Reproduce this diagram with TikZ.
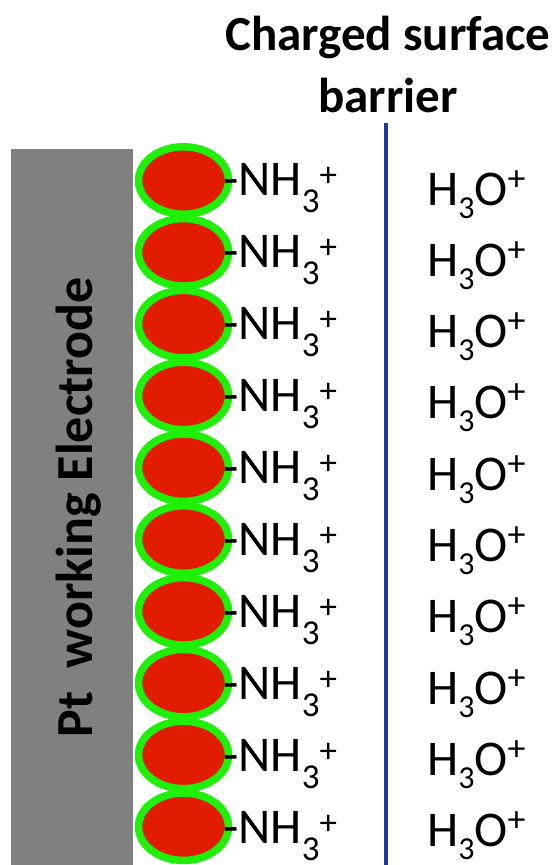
\documentclass[tikz,border=0pt]{standalone}
\usepackage{fontspec}
\setmainfont{Carlito}
\usetikzlibrary{shapes.geometric}
\definecolor{electrodegray}{RGB}{128,128,128}
\definecolor{beadred}{RGB}{225,28,0}
\definecolor{beadgreen}{RGB}{30,240,10}
\definecolor{barrierblue}{RGB}{30,55,160}
\newcommand{\aminegroup}{-NH\raisebox{-17pt}{\fontsize{35}{35}\selectfont 3}\raisebox{9pt}{\fontsize{35}{35}\selectfont +}}
\newcommand{\hydronium}{H\raisebox{-13pt}{\fontsize{32}{32}\selectfont 3}O\raisebox{15pt}{\fontsize{36}{36}\selectfont +}}
\begin{document}
\begin{tikzpicture}[x=1pt,y=-1pt,
  bead/.style={ellipse, draw=beadgreen, fill=beadred, line width=7.5pt,
    minimum width=90pt, minimum height=67.5pt, inner sep=0pt, outer sep=0pt},
  lab/.style={anchor=base west, inner sep=0pt, font=\fontsize{50}{60}\selectfont},
  boldlab/.style={inner sep=0pt, font=\bfseries\fontsize{49}{62}\selectfont}]
\useasboundingbox (0,0) rectangle (557,865);
\fill[electrodegray] (10.5,149) rectangle (133,870);
\node[boldlab, rotate=90, anchor=base, font=\bfseries\fontsize{52}{60}\selectfont] (elabel) at (92,507.5) {Pt\ \ working Electrode};
\node[boldlab, align=center, anchor=base] (title) at (388,112) {Charged surface\\barrier};
\coordinate (bartop) at (386,123);
\coordinate (barbot) at (386,866);
\draw[barrierblue, line width=4pt] (bartop) -- (barbot);
\foreach \i in {0,...,9} {
  \node[bead] (b\i) at (183.5,{180.5+71.8*\i}) {};
  \node[lab] (n\i) at (223,{195+72*\i}) {\aminegroup};
  \node[lab] (h\i) at (427,{205+71.33*\i}) {\hydronium};
}
\end{tikzpicture}
\end{document}
